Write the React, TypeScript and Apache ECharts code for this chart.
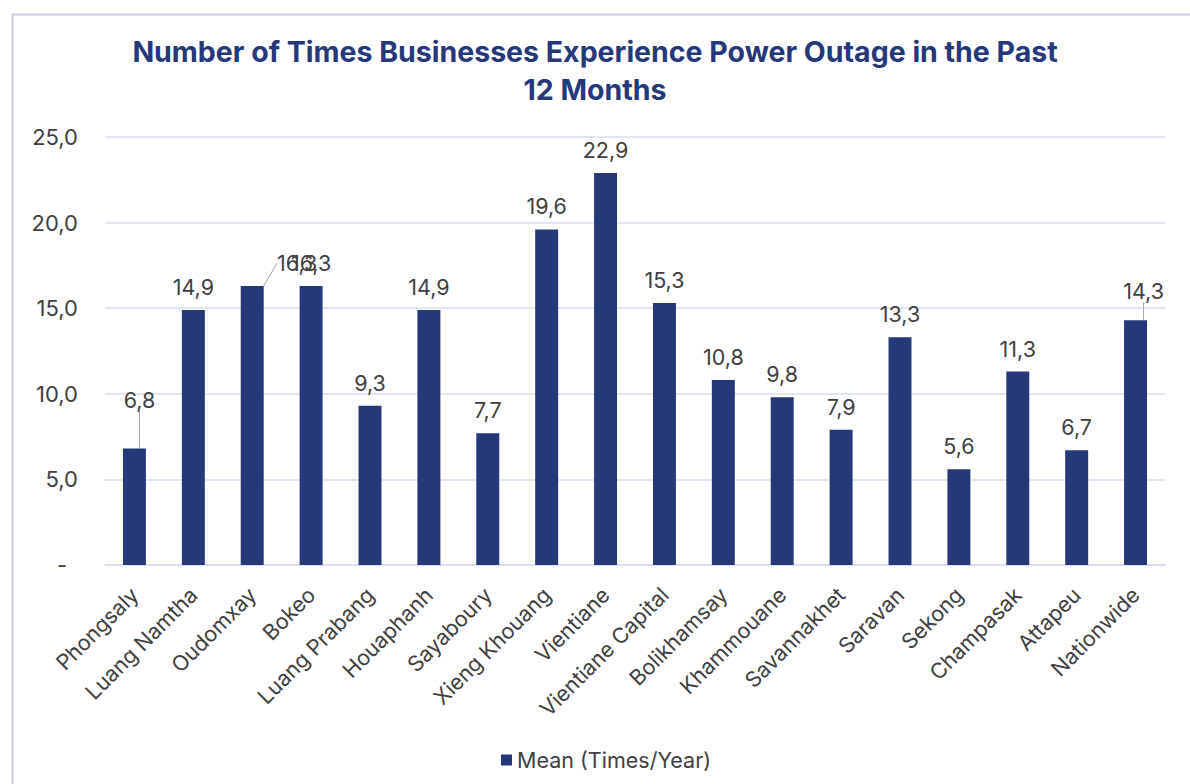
import React, { useEffect, useRef } from "react";
import * as echarts from "echarts";

const categories = [
  "Phongsaly", "Luang Namtha", "Oudomxay", "Bokeo", "Luang Prabang", "Houaphanh",
  "Sayaboury", "Xieng Khouang", "Vientiane", "Vientiane Capital", "Bolikhamsay",
  "Khammouane", "Savannakhet", "Saravan", "Sekong", "Champasak", "Attapeu", "Nationwide",
];
const meanValues = [6.8, 14.9, 16.3, 16.3, 9.3, 14.9, 7.7, 19.6, 22.9, 15.3, 10.8, 9.8, 7.9, 13.3, 5.6, 11.3, 6.7, 14.3];
const yTicks = [0, 5, 10, 15, 20, 25];
const seriesName = "Mean (Times/Year)";
const titleText = "Number of Times Businesses Experience Power Outage in the Past\n12 Months";

// label displacement (style) for labels that were moved in the original
const labelShift: Record<number, [number, number]> = {
  0: [5, -26],
  2: [45, 0],
  17: [8, -6],
};

const NAVY = "#253878";
const TEXT = "#404040";
const FONT = "Inter, 'Noto Sans', sans-serif";

const fmt = (v: number) => v.toFixed(1).replace(".", ",");

export default function App() {
  const ref = useRef<HTMLDivElement>(null);
  useEffect(() => {
    if (!ref.current) return;
    const chart = echarts.init(ref.current, null, { renderer: "svg" });
    chart.setOption({
      animation: false,
      backgroundColor: "#ffffff",
      textStyle: { fontFamily: FONT },
      graphic: [
        {
          type: "rect",
          left: 10,
          top: 12,
          shape: { width: 1200, height: 800 },
          style: { fill: "none", stroke: "#C9CCE6", lineWidth: 2 },
          silent: true,
        },
      ],
      title: {
        text: titleText,
        left: "center",
        top: 27,
        padding: [5, 5, 5, 29],
        textStyle: {
          fontFamily: FONT,
          fontSize: 28.5,
          fontWeight: "bold",
          color: "#24387A",
          lineHeight: 38,
        },
      },
      legend: {
        data: [seriesName],
        left: 496,
        top: 744,
        icon: "rect",
        itemWidth: 11,
        itemHeight: 11,
        itemGap: 6,
        textStyle: { fontFamily: FONT, fontSize: 21.5, color: TEXT },
      },
      grid: { left: 105, right: 25, top: 137, bottom: 219, containLabel: false },
      xAxis: {
        type: "category",
        data: categories,
        axisLine: { show: true, lineStyle: { color: "#D9DCEF", width: 1.5 } },
        axisTick: { show: false },
        axisLabel: {
          interval: 0,
          rotate: 45,
          margin: 26,
          fontFamily: FONT,
          fontSize: 21.5,
          color: TEXT,
        },
      },
      yAxis: {
        type: "value",
        min: yTicks[0],
        max: yTicks[yTicks.length - 1],
        interval: yTicks[1] - yTicks[0],
        axisLine: { show: false },
        axisTick: { show: false },
        splitLine: { lineStyle: { color: "#D9DCEF", width: 1.5 } },
        axisLabel: {
          margin: 27,
          fontFamily: FONT,
          fontSize: 22,
          color: TEXT,
          formatter: (v: number) => (v === 0 ? "{d|-}" : fmt(v)),
          rich: { d: { fontSize: 22, color: TEXT, padding: [0, 11, 0, 0] } },
        },
      },
      series: [
        {
          name: seriesName,
          type: "bar",
          data: meanValues.map((v, i) =>
            labelShift[i] ? { value: v, labelLine: { show: true } } : v
          ),
          barWidth: "39%",
          itemStyle: { color: NAVY },
          label: {
            show: true,
            position: "top",
            distance: 12,
            fontFamily: FONT,
            fontSize: 21.5,
            color: TEXT,
            formatter: (p: any) => fmt(p.value),
          },
          labelLine: { show: false, lineStyle: { color: "#A6A6A6", width: 1 } },
          labelLayout: (p: any) => {
            const s = labelShift[p.dataIndex];
            return s ? { dx: s[0], dy: s[1] } : {};
          },
        },
      ],
    });
    return () => chart.dispose();
  }, []);
  return (
    <div
      ref={ref}
      style={{ position: "fixed", left: 0, top: 0, width: 1190, height: 784, background: "#fff" }}
    />
  );
}
